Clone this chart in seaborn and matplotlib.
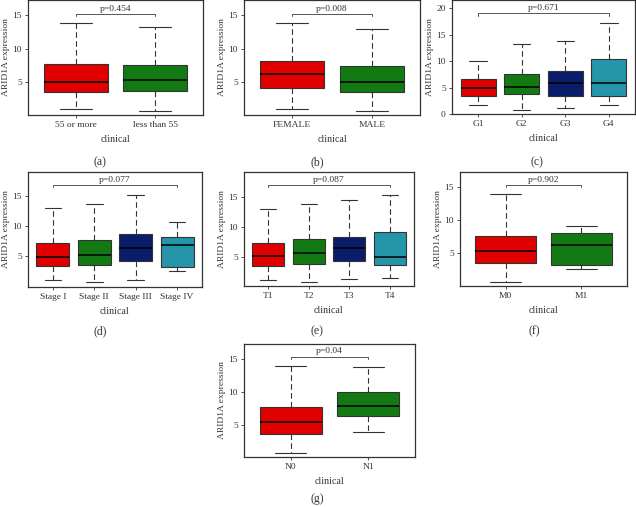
import numpy as np
import pandas as pd
import seaborn as sns
import matplotlib.pyplot as plt

# five-number summaries (min, q1, median, q3, max)
age_groups = ['55 or more', 'less than 55']
age_stats = [[1.0, 3.5, 5.05, 7.75, 13.85], [0.7, 3.7, 5.3, 7.5, 13.25]]

sex_groups = ['FEMALE', 'MALE']
sex_stats = [[1.0, 4.1, 6.25, 8.2, 13.85], [0.7, 3.5, 5.0, 7.45, 12.95]]

grade_groups = ['G1', 'G2', 'G3', 'G4']
grade_stats = [[1.7, 3.5, 4.9, 6.6, 10.1], [0.75, 3.7, 5.1, 7.55, 13.2],
               [1.07, 3.35, 5.8, 8.1, 13.9], [1.65, 3.5, 5.85, 10.45, 17.3]]

stage_groups = ['Stage I', 'Stage II', 'Stage III', 'Stage IV']
stage_stats = [[1.0, 3.4, 4.95, 7.28, 13.0], [0.67, 3.6, 5.17, 7.67, 13.8],
               [1.1, 4.2, 6.4, 8.67, 15.3], [2.6, 3.2, 6.9, 8.2, 10.7]]

t_groups = ['T1', 'T2', 'T3', 'T4']
t_stats = [[1.1, 3.45, 5.05, 7.33, 13.0], [0.8, 3.8, 5.55, 8.0, 13.9],
           [1.2, 4.33, 6.55, 8.33, 14.45], [1.4, 3.7, 4.9, 9.2, 15.4]]

m_groups = ['M0', 'M1']
m_stats = [[0.68, 3.54, 5.4, 7.66, 13.9], [2.65, 3.25, 6.25, 8.07, 9.2]]

n_groups = ['N0', 'N1']
n_stats = [[0.75, 3.65, 5.45, 7.75, 13.9], [4.0, 6.3, 7.85, 9.95, 13.75]]

p_labels = ['p=0.454', 'p=0.008', 'p=0.671', 'p=0.077', 'p=0.087', 'p=0.902', 'p=0.04']
bar_heights = [15.25, 15.25, 19.05, 16.9, 17.0, 15.35, 15.3]
letters = ['(a)', '(b)', '(c)', '(d)', '(e)', '(f)', '(g)']

colors = ['#e00000', '#137a13', '#0a1d6b', '#2596aa']

W, H = 636, 507
# axes boxes in pixels: left, right, top, bottom
boxes = [(28, 203, 0, 115), (244, 420, 0, 115), (452, 635, 0, 114),
         (28, 202, 172, 287), (244, 414, 172, 286), (460, 627, 172, 286),
         (244, 415, 344, 457)]
ylims = [(0.05, 17.3), (0.05, 17.3), (0, 21.6), (-0.1, 19.05), (0.1, 19.2), (0.07, 17.3), (0.2, 17.2)]
yticks = [[5, 10, 15], [5, 10, 15], [0, 5, 10, 15, 20], [5, 10, 15], [5, 10, 15], [5, 10, 15], [5, 10, 15]]
letter_pos = [(100, 162), (317, 162), (537, 162), (100, 331), (317, 331), (534, 331), (317, 499)]

panels = [(age_groups, age_stats), (sex_groups, sex_stats), (grade_groups, grade_stats),
          (stage_groups, stage_stats), (t_groups, t_stats), (m_groups, m_stats),
          (n_groups, n_stats)]

sns.set_theme(style='white')
plt.rcParams['font.family'] = ['Liberation Serif', 'DejaVu Serif']
txt = '#333333'

fig = plt.figure(figsize=(W / 100, H / 100), dpi=100)

for i, (groups, stats) in enumerate(panels):
    l, r, t, b = boxes[i]
    ax = fig.add_axes([l / W, 1 - b / H, (r - l) / W, (b - t) / H])
    df = pd.DataFrame([(g, v) for g, s in zip(groups, stats) for v in s],
                      columns=['clinical', 'expr'])
    sns.boxplot(data=df, x='clinical', y='expr', hue='clinical', order=groups,
                palette=colors[:len(groups)], saturation=1, legend=False,
                whis=(0, 100), width=0.8, linecolor='#333333', linewidth=0.8, ax=ax,
                whiskerprops=dict(linestyle=(0, (5, 3))),
                medianprops=dict(color='black', linewidth=1.1))
    ax.set_xlim(-0.6, len(groups) - 0.4)
    ax.set_ylim(*ylims[i])
    ax.set_yticks(yticks[i])
    ax.tick_params(axis='both', labelsize=6.8, colors=txt, length=2.5, width=0.6,
                   direction='out', bottom=True, left=True, pad=2)
    for sp in ax.spines.values():
        sp.set_color('#333333')
        sp.set_linewidth(0.9)
    ax.set_xlabel('clinical', fontsize=7.2, color=txt, labelpad=4)
    ax.set_ylabel('ARID1A expression', fontsize=6.8, color=txt, labelpad=1.5)

    # significance bracket
    y0 = bar_heights[i]
    rng = ylims[i][1] - ylims[i][0]
    tick = rng * 0.02
    ax.plot([0, 0, len(groups) - 1, len(groups) - 1], [y0 - tick, y0, y0, y0 - tick],
            color='#555555', linewidth=0.7)
    ax.text((len(groups) - 1) / 2, y0 + rng * 0.01, p_labels[i], ha='center', va='bottom',
            fontsize=6.8, color=txt)

    lx, ly = letter_pos[i]
    fig.text(lx / W, 1 - ly / H, letters[i], ha='center', va='center', fontsize=8.5, color=txt)

fig.savefig('out.png', dpi=100)
